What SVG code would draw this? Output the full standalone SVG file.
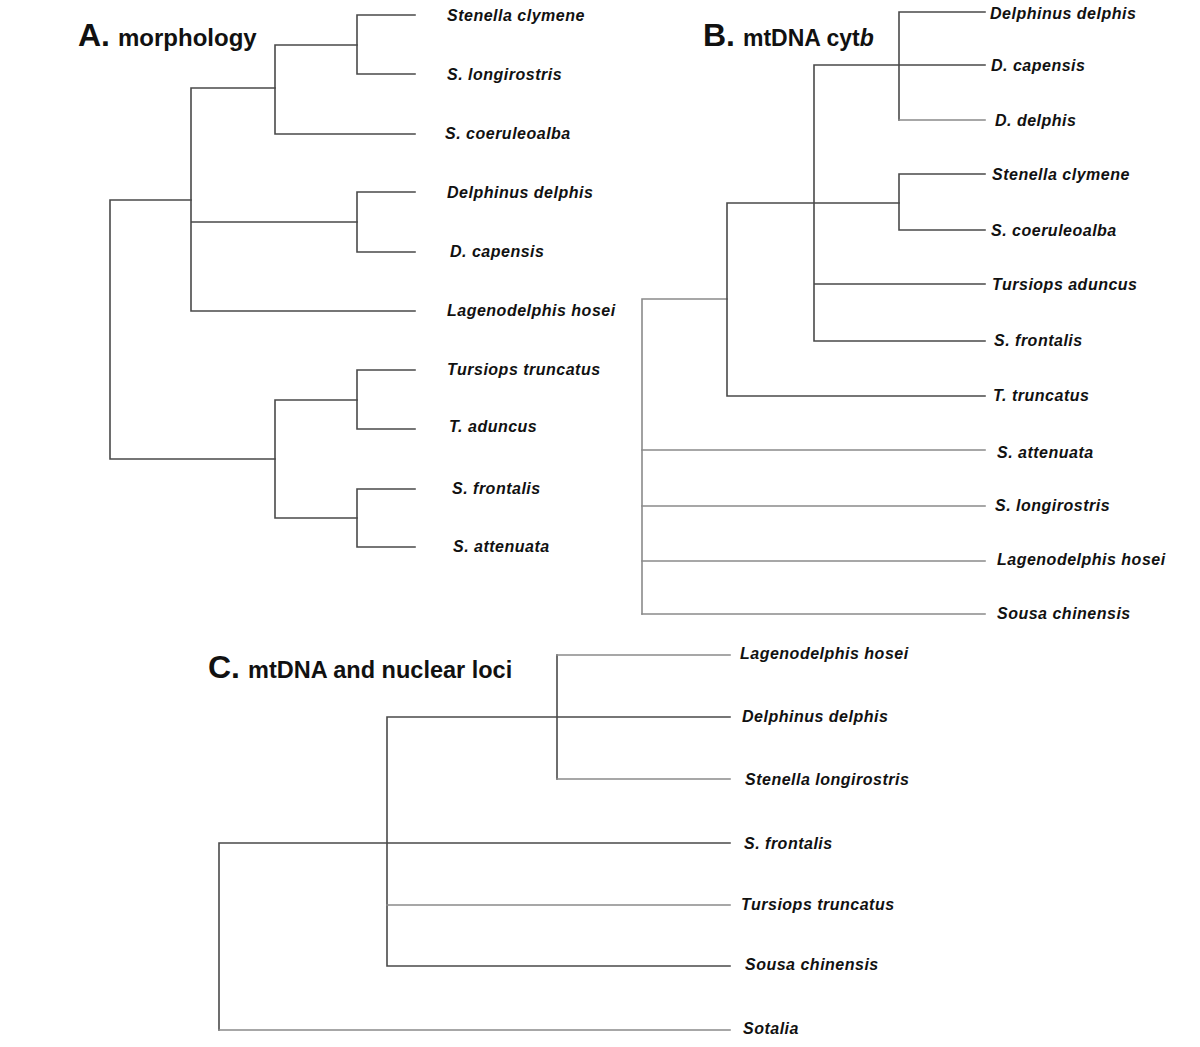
<svg xmlns="http://www.w3.org/2000/svg" width="1200" height="1047" viewBox="0 0 1200 1047">
<style>
.br{fill:none;stroke:#4a4a4a;stroke-width:1.6;stroke-linecap:square}
.lt{stroke:#8a8a8a}
.lb{font-family:"Liberation Sans",Arial,sans-serif;font-size:16px;font-weight:bold;font-style:italic;letter-spacing:0.5px;fill:#111}
.tl{font-family:"Liberation Sans",Arial,sans-serif;font-weight:bold;fill:#111}
</style>
<rect width="1200" height="1047" fill="#fff"/>
<g id="titles">
<text class="tl" x="78" y="46" font-size="32">A.<tspan font-size="24" dx="8">morphology</tspan></text>
<text class="tl" x="703" y="46" font-size="32">B.<tspan font-size="23" dx="8">mtDNA cyt</tspan><tspan font-size="23" font-style="italic">b</tspan></text>
<text class="tl" x="208" y="678" font-size="32">C.<tspan font-size="23.5" dx="8">mtDNA and nuclear loci</tspan></text>
</g>
<g id="connectors">
<!-- Panel A -->
<path class="br" d="M110 200V459M110 200H191M110 459H275"/>
<path class="br" d="M191 88V311M191 88H275M191 222H357M191 311H415"/>
<path class="br" d="M275 45V134M275 45H357M275 134H415"/>
<path class="br" d="M357 15V74M357 15H415M357 74H415"/>
<path class="br" d="M357 192V252M357 192H415M357 252H415"/>
<path class="br" d="M275 400V518M275 400H357M275 518H357"/>
<path class="br" d="M357 370V429M357 370H415M357 429H415"/>
<path class="br" d="M357 489V547M357 489H415M357 547H415"/>
<!-- Panel B -->
<path class="br lt" d="M642 299V614M642 299H727"/>
<path class="br lt" d="M642 450H985M642 506H985M642 561H985M642 614H985"/>
<path class="br" d="M727 203V396M727 203H899M727 396H985"/>
<path class="br" d="M814 65V341M814 65H985M814 284H985M814 341H985"/>
<path class="br" d="M899 12V120M899 12H985"/>
<path class="br lt" d="M899 120H985"/>
<path class="br" d="M899 174V230M899 174H985M899 230H985"/>
<!-- Panel C -->
<path class="br" d="M219 843V1030M219 843H730"/>
<path class="br lt" d="M219 1030H730"/>
<path class="br" d="M387 717V966M387 717H730M387 966H730"/>
<path class="br lt" d="M387 905H730"/>
<path class="br" d="M557 655V779"/>
<path class="br lt" d="M557 655H730M557 779H730"/>
</g>
<g id="labels-A">
<text class="lb" x="447" y="21">Stenella clymene</text>
<text class="lb" x="447" y="80">S. longirostris</text>
<text class="lb" x="445" y="139">S. coeruleoalba</text>
<text class="lb" x="447" y="198">Delphinus delphis</text>
<text class="lb" x="450" y="257">D. capensis</text>
<text class="lb" x="447" y="316">Lagenodelphis hosei</text>
<text class="lb" x="447" y="375">Tursiops truncatus</text>
<text class="lb" x="449" y="432">T. aduncus</text>
<text class="lb" x="452" y="494">S. frontalis</text>
<text class="lb" x="453" y="552">S. attenuata</text>
</g>
<g id="labels-B">
<text class="lb" x="990" y="19">Delphinus delphis</text>
<text class="lb" x="991" y="71">D. capensis</text>
<text class="lb" x="995" y="126">D. delphis</text>
<text class="lb" x="992" y="180">Stenella clymene</text>
<text class="lb" x="991" y="236">S. coeruleoalba</text>
<text class="lb" x="992" y="290">Tursiops aduncus</text>
<text class="lb" x="994" y="346">S. frontalis</text>
<text class="lb" x="993" y="401">T. truncatus</text>
<text class="lb" x="997" y="458">S. attenuata</text>
<text class="lb" x="995" y="511">S. longirostris</text>
<text class="lb" x="997" y="565">Lagenodelphis hosei</text>
<text class="lb" x="997" y="619">Sousa chinensis</text>
</g>
<g id="labels-C">
<text class="lb" x="740" y="659">Lagenodelphis hosei</text>
<text class="lb" x="742" y="722">Delphinus delphis</text>
<text class="lb" x="745" y="785">Stenella longirostris</text>
<text class="lb" x="744" y="849">S. frontalis</text>
<text class="lb" x="741" y="910">Tursiops truncatus</text>
<text class="lb" x="745" y="970">Sousa chinensis</text>
<text class="lb" x="743" y="1034">Sotalia</text>
</g>
</svg>
